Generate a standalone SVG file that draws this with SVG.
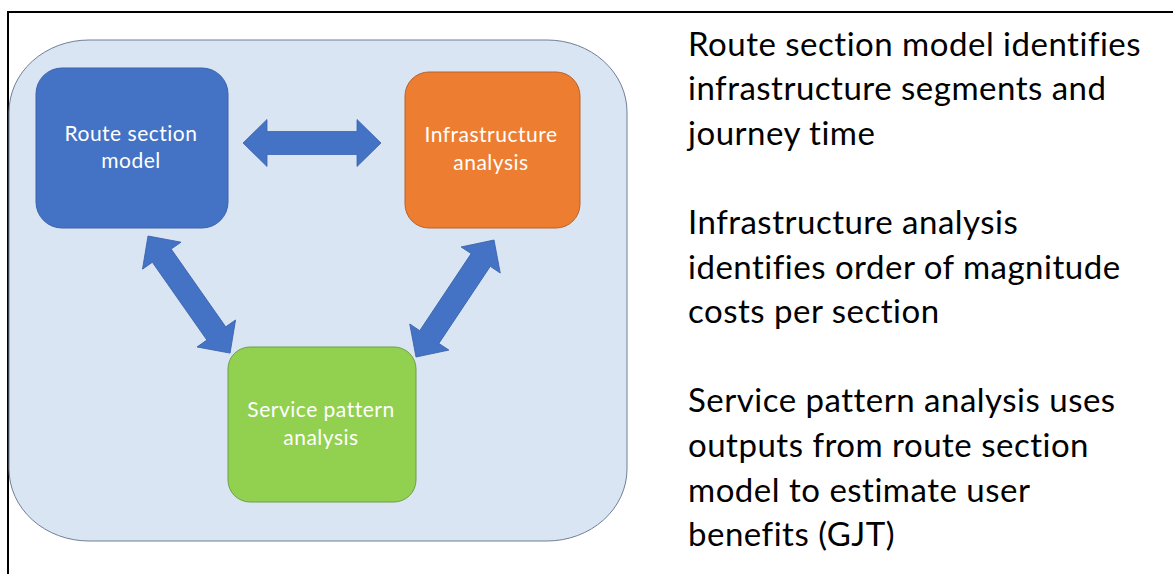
<svg xmlns="http://www.w3.org/2000/svg" width="1173" height="574" viewBox="0 0 1173 574">
<style>
.node-text{font-family:Lato,"Open Sans",sans-serif;font-size:21px;letter-spacing:0.5px;fill:#ffffff;text-anchor:middle}
.body-text{font-family:Lato,"Open Sans",sans-serif;font-size:33px;letter-spacing:0.5px;fill:#000000}
.arrow{fill:#4472C4;stroke:#3A63AE;stroke-width:0.8}
</style>
<rect width="1173" height="574" fill="#ffffff"/>
<path d="M8,574 V12 H1173" fill="none" stroke="#000000" stroke-width="2"/>
<g id="container">
<rect x="9" y="40" width="618" height="501" rx="80" ry="72" fill="#DAE5F3" stroke="#6F7F96" stroke-width="1"/>
</g>
<g id="connectors">
<polygon class="arrow" points="243,143 267,119.5 267,131.5 357,131.5 357,119.5 381,143 357,166.5 357,154.5 267,154.5 267,166.5"/>
<polygon class="arrow" transform="translate(148,236) rotate(54.98)" points="0,0 24,-23.5 24,-11.5 119,-11.5 119,-23.5 143,0 119,23.5 119,11.5 24,11.5 24,23.5"/>
<polygon class="arrow" transform="translate(416,357) rotate(-56.3)" points="0,0 24,-23.5 24,-11.5 116.6,-11.5 116.6,-23.5 140.6,0 116.6,23.5 116.6,11.5 24,11.5 24,23.5"/>
</g>
<g id="route-section-model">
<rect x="36" y="68" width="192" height="160" rx="26" fill="#4472C4" stroke="#3A63AE" stroke-width="1"/>
<text class="node-text" x="131" y="141">Route section</text>
<text class="node-text" x="131" y="168">model</text>
</g>
<g id="infrastructure-analysis">
<rect x="405" y="72" width="175" height="156" rx="24" fill="#ED7D31" stroke="#B9612A" stroke-width="1"/>
<text class="node-text" x="491" y="142">Infrastructure</text>
<text class="node-text" x="491" y="170">analysis</text>
</g>
<g id="service-pattern-analysis">
<rect x="228" y="347" width="188" height="155" rx="22" fill="#92D050" stroke="#6E9E48" stroke-width="1"/>
<text class="node-text" x="321" y="417">Service pattern</text>
<text class="node-text" x="321" y="445">analysis</text>
</g>
<g id="description">
<text class="body-text" x="688" y="55.5">Route section model identifies</text>
<text class="body-text" x="688" y="100.1">infrastructure segments and</text>
<text class="body-text" x="688" y="144.7">journey time</text>
<text class="body-text" x="688" y="233.9">Infrastructure analysis</text>
<text class="body-text" x="688" y="278.5">identifies order of magnitude</text>
<text class="body-text" x="688" y="323.1">costs per section</text>
<text class="body-text" x="688" y="412.3">Service pattern analysis uses</text>
<text class="body-text" x="688" y="456.9">outputs from route section</text>
<text class="body-text" x="688" y="501.5">model to estimate user</text>
<text class="body-text" x="688" y="546.1">benefits (GJT)</text>
</g>
</svg>
